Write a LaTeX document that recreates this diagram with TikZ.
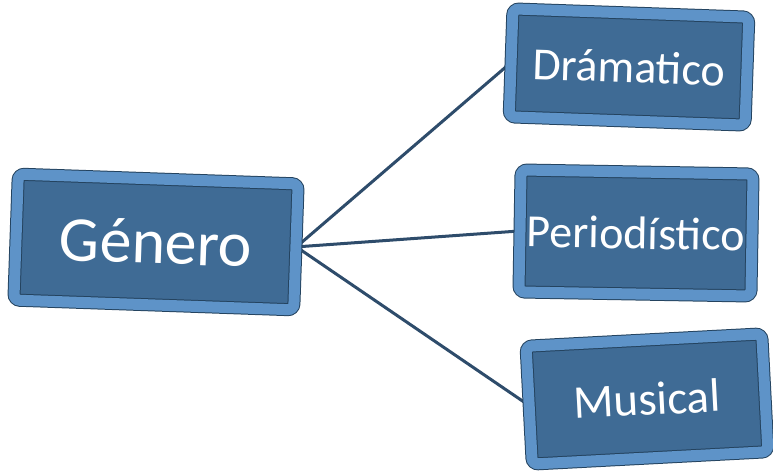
\documentclass[tikz,border=0pt]{standalone}
\usepackage{fontspec}
\setmainfont{Carlito}
\usepackage{tikz}
\usetikzlibrary{arrows.meta,backgrounds,shadows}
\definecolor{facecol}{HTML}{3F6B95}
\definecolor{bevelcol}{HTML}{5E93C8}
\definecolor{edgecol}{HTML}{24435F}
\definecolor{linecol}{HTML}{2E4C6B}

\begin{document}
\begin{tikzpicture}[x=0.5pt,y=-0.5pt,
		genbox/.style={fill=facecol, draw=edgecol, double=bevelcol, double distance=5.5pt, line width=0.5pt,
			rounded corners=3pt, inner sep=0pt, text=white,
			drop shadow={opacity=0.35, shadow xshift=1.5pt, shadow yshift=-2pt}},
		link/.style={draw=linecol, line width=1.5pt}]
				\useasboundingbox (0,0) rectangle (773,475);
				
				% Root
				\node[genbox, minimum width=140pt, minimum height=63pt, rotate=-2, font=\fontsize{32}{36}\selectfont] (gen) at (156,242) {Género};
				
				% Branches
				\node[genbox, minimum width=118pt, minimum height=54pt, rotate=-2, font=\fontsize{23}{26}\selectfont] (dra) at (629,67) {Drámatico};
				\node[genbox, minimum width=116pt, minimum height=61pt, rotate=-1, font=\fontsize{23}{26}\selectfont] (per) at (636,233) {Periodístico};
				\node[genbox, minimum width=118pt, minimum height=59pt, rotate=3, font=\fontsize{23.5}{26}\selectfont] (mus) at (647,399) {Musical};
				
				% Connectors
				\begin{scope}[on background layer]
				\draw[link] (gen.east) -- (dra.west);
				\draw[link] (gen.east) -- (per.west);
				\draw[link] (gen.east) -- (mus.west);
				\end{scope}
				
			\end{tikzpicture}
\end{document}
